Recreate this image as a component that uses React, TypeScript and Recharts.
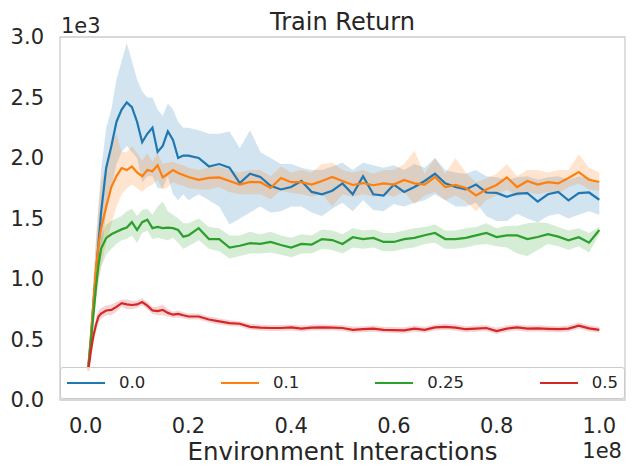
import { ComposedChart, Area, Line, XAxis, YAxis, ReferenceArea } from "recharts";

// x positions in millions of environment interactions
const X_M = [
  0.5, 1, 1.5, 2, 2.5, 3, 4, 5, 6, 7, 8, 9, 10, 11, 12, 13, 14, 15, 16, 17, 18, 19, 20,
  22, 24, 26, 28, 30, 32, 34, 36, 38, 40, 42, 44, 46, 48, 50, 52, 54, 56, 58, 60,
  62, 64, 66, 68, 70, 72, 74, 76, 78, 80, 82, 84, 86, 88, 90, 92, 94, 96, 98, 100,
];

// 0.0
const blue = [
  270, 500, 800, 1050, 1300, 1550, 1920, 2100, 2300, 2400, 2460, 2420, 2300, 2130, 2200, 2250, 2050, 2100, 2220, 2150, 2000, 2020, 2020,
  2000, 1930, 1950, 1920, 1793, 1870, 1843, 1770, 1740, 1760, 1810, 1720, 1700, 1730, 1790, 1700, 1850, 1700, 1690, 1780,
  1720, 1760, 1810, 1870, 1790, 1760, 1740, 1780, 1715, 1712, 1680, 1705, 1710, 1640, 1700, 1720, 1650, 1710, 1715, 1655,
];
const blueHi = [
  300, 600, 950, 1300, 1600, 1900, 2250, 2400, 2650, 2800, 2950, 2800, 2650, 2550, 2500, 2500, 2400, 2350, 2450, 2400, 2300, 2250, 2250,
  2230, 2200, 2200, 2220, 2080, 2230, 2050, 2000, 1950, 1950, 1920, 1900, 1900, 1930, 1960, 1900, 1960, 1940, 1920, 1940,
  1900, 1950, 1920, 2000, 1900, 1880, 1870, 1900, 1850, 1840, 1820, 1840, 1850, 1820, 1840, 1850, 1820, 1850, 1840, 1790,
];
const blueLo = [
  240, 420, 650, 850, 1050, 1200, 1550, 1750, 1950, 2050, 2100, 2050, 2000, 1800, 1850, 1850, 1750, 1750, 1850, 1700, 1650, 1700, 1650,
  1700, 1650, 1600, 1450, 1500, 1550, 1600, 1550, 1560, 1600, 1600, 1550, 1520, 1580, 1630, 1560, 1650, 1570, 1560, 1620,
  1600, 1630, 1650, 1700, 1650, 1600, 1600, 1630, 1520, 1480, 1480, 1540, 1500, 1470, 1520, 1540, 1500, 1530, 1560, 1530,
];

// 0.1
const orange = [
  260, 520, 800, 1080, 1280, 1420, 1600, 1760, 1850, 1917, 1900, 1930, 1880, 1850, 1900, 1890, 1940, 1840, 1870, 1900, 1876, 1860, 1843,
  1820, 1835, 1840, 1810, 1780, 1802, 1800, 1752, 1835, 1800, 1800, 1780, 1810, 1843, 1810, 1777, 1793, 1775, 1790, 1780,
  1818, 1790, 1780, 1843, 1760, 1777, 1752, 1690, 1740, 1777, 1840, 1760, 1810, 1780, 1800, 1790, 1835, 1884, 1820, 1802,
];
const orangeHi = [
  280, 650, 1000, 1350, 1600, 1800, 1950, 2100, 2200, 2050, 2050, 2100, 2040, 1980, 2040, 1970, 2040, 1950, 1960, 1970, 1950, 1940, 1920,
  1900, 1920, 1930, 1900, 1880, 1900, 1900, 1850, 1930, 1880, 1900, 1880, 1950, 1960, 1900, 1880, 1900, 1870, 1900, 1900,
  1950, 2060, 1870, 2000, 1870, 2000, 1880, 1800, 1830, 1870, 1950, 1850, 1900, 1900, 1880, 1900, 1900, 2030, 1920, 1880,
];
const orangeLo = [
  240, 380, 600, 800, 950, 1100, 1300, 1450, 1600, 1700, 1750, 1780, 1750, 1720, 1760, 1780, 1820, 1740, 1760, 1800, 1780, 1770, 1750,
  1740, 1740, 1760, 1720, 1700, 1700, 1700, 1660, 1730, 1710, 1700, 1680, 1700, 1600, 1700, 1680, 1700, 1680, 1700, 1680,
  1720, 1620, 1690, 1720, 1650, 1690, 1640, 1560, 1650, 1690, 1740, 1680, 1720, 1700, 1720, 1700, 1760, 1790, 1740, 1730,
];

// 0.25
const green = [
  250, 480, 700, 930, 1120, 1250, 1340, 1370, 1390, 1410, 1425, 1470, 1405, 1470, 1490, 1420, 1430, 1420, 1425, 1420, 1405, 1350, 1360,
  1420, 1330, 1330, 1260, 1275, 1297, 1290, 1306, 1281, 1260, 1290, 1285, 1330, 1322, 1290, 1345, 1330, 1339, 1306, 1306,
  1330, 1340, 1362, 1380, 1330, 1330, 1340, 1360, 1380, 1347, 1360, 1360, 1330, 1347, 1370, 1350, 1320, 1345, 1300, 1405,
];
const greenHi = [
  270, 540, 780, 1020, 1220, 1350, 1450, 1480, 1500, 1520, 1560, 1580, 1520, 1570, 1580, 1530, 1600, 1640, 1560, 1530, 1500, 1460, 1460,
  1500, 1430, 1420, 1360, 1360, 1390, 1370, 1390, 1360, 1340, 1370, 1360, 1410, 1400, 1370, 1420, 1400, 1410, 1380, 1380,
  1400, 1420, 1430, 1450, 1400, 1400, 1420, 1430, 1460, 1420, 1440, 1440, 1460, 1470, 1460, 1430, 1400, 1420, 1380, 1430,
];
const greenLo = [
  230, 420, 620, 840, 1000, 1100, 1200, 1250, 1290, 1320, 1330, 1360, 1300, 1380, 1400, 1330, 1340, 1330, 1320, 1340, 1300, 1250, 1270,
  1320, 1250, 1230, 1170, 1190, 1210, 1210, 1220, 1200, 1180, 1210, 1210, 1250, 1240, 1210, 1260, 1250, 1260, 1230, 1230,
  1250, 1260, 1290, 1300, 1250, 1250, 1260, 1280, 1290, 1270, 1260, 1210, 1190, 1240, 1290, 1270, 1240, 1270, 1220, 1370,
];

// 0.5
const red = [
  240, 400, 530, 620, 690, 715, 740, 745, 770, 800, 790, 785, 790, 810, 780, 740, 735, 745, 720, 705, 711, 700, 690,
  690, 665, 650, 636, 630, 605, 598, 595, 595, 600, 590, 598, 600, 598, 595, 580, 585, 590, 580, 578,
  575, 590, 580, 600, 605, 598, 585, 590, 595, 570, 590, 600, 590, 592, 588, 585, 590, 615, 592, 580,
];
const redHi = [
  260, 440, 580, 680, 740, 760, 780, 790, 810, 830, 830, 820, 820, 840, 810, 770, 770, 790, 750, 730, 740, 725, 715,
  715, 690, 675, 660, 650, 630, 622, 620, 620, 625, 615, 622, 625, 622, 620, 608, 610, 615, 605, 603,
  600, 615, 605, 625, 630, 623, 610, 615, 620, 598, 615, 625, 615, 617, 613, 610, 615, 640, 617, 605,
];
const redLo = [
  220, 360, 480, 560, 640, 670, 700, 700, 730, 770, 750, 750, 760, 780, 750, 710, 700, 700, 690, 680, 682, 675, 665,
  665, 640, 625, 612, 608, 580, 574, 570, 570, 575, 565, 574, 575, 574, 570, 555, 560, 565, 555, 553,
  550, 565, 555, 575, 580, 573, 560, 565, 570, 545, 565, 575, 565, 567, 563, 560, 565, 590, 567, 555,
];

const X_TICKS = [0, 2e7, 4e7, 6e7, 8e7, 1e8];
const Y_TICKS = [0, 500, 1000, 1500, 2000, 2500, 3000];

const series = [
  { name: "0.0", color: "#1f77b4", mean: blue, lo: blueLo, hi: blueHi },
  { name: "0.1", color: "#ff7f0e", mean: orange, lo: orangeLo, hi: orangeHi },
  { name: "0.25", color: "#2ca02c", mean: green, lo: greenLo, hi: greenHi },
  { name: "0.5", color: "#d62728", mean: red, lo: redLo, hi: redHi },
];

const data = X_M.map((m, i) => {
  const row: Record<string, number | number[]> = { x: m * 1e6 };
  series.forEach((s, k) => {
    row[`m${k}`] = s.mean[i];
    row[`r${k}`] = [s.lo[i], s.hi[i]];
  });
  return row;
});

const FONT = "DejaVu Sans";
const INK = "#262626";

export default function App() {
  const marks: JSX.Element[] = [];
  series.forEach((s, k) => {
    marks.push(
      <Area
        key={`band-${k}`}
        type="linear"
        dataKey={`r${k}`}
        stroke="none"
        fill={s.color}
        fillOpacity={0.2}
        dot={false}
        activeDot={false}
        isAnimationActive={false}
      />
    );
    marks.push(
      <Line
        key={`line-${k}`}
        type="linear"
        dataKey={`m${k}`}
        stroke={s.color}
        strokeWidth={2.2}
        dot={false}
        activeDot={false}
        isAnimationActive={false}
      />
    );
  });

  return (
    <div style={{ position: "absolute", left: 0, top: 0, width: 635, height: 475, background: "#fff", fontFamily: FONT }}>
      <ComposedChart width={635} height={475} data={data} margin={{ top: 37, right: 10, bottom: 0, left: 0 }}>
        <XAxis
          type="number"
          dataKey="x"
          domain={[-5e6, 1.05e8]}
          ticks={X_TICKS}
          tickFormatter={(v: number) => (v / 1e8).toFixed(1)}
          axisLine={false}
          tickLine={false}
          tickSize={0}
          tickMargin={18}
          height={75}
          interval={0}
          tick={{ fontSize: 21, fill: INK, fontFamily: FONT }}
        />
        <YAxis
          type="number"
          domain={[0, 3000]}
          ticks={Y_TICKS}
          tickFormatter={(v: number) => (v / 1000).toFixed(1)}
          axisLine={false}
          tickLine={false}
          tickSize={0}
          tickMargin={16}
          width={60}
          interval={0}
          tick={{ fontSize: 21, fill: INK, fontFamily: FONT }}
        />
        {marks}
        <ReferenceArea
          x1={-5e6}
          x2={1.05e8}
          y1={0}
          y2={3000}
          fill="none"
          stroke="#cccccc"
          strokeWidth={1.3}
          ifOverflow="visible"
        />
      </ComposedChart>

      <svg width={635} height={475} style={{ position: "absolute", left: 0, top: 0, pointerEvents: "none" }}>
        <text x={342.5} y={30} textAnchor="middle" fontSize={24} fill={INK} fontFamily={FONT}>
          Train Return
        </text>
        <text x={61} y={33} fontSize={21} fill={INK} fontFamily={FONT}>
          1e3
        </text>
        <text x={622} y={458} textAnchor="end" fontSize={21} fill={INK} fontFamily={FONT}>
          1e8
        </text>
        <text x={342.5} y={460} textAnchor="middle" fontSize={24.5} fill={INK} fontFamily={FONT}>
          Environment Interactions
        </text>
      </svg>

      <div
        style={{
          position: "absolute",
          left: 60,
          top: 367,
          width: 565,
          height: 32,
          boxSizing: "border-box",
          border: "1px solid #cccccc",
          borderRadius: 3,
          background: "rgba(255,255,255,0.8)",
          display: "flex",
          alignItems: "center",
          justifyContent: "space-between",
          padding: "0 6px",
        }}
      >
        {series.map((s) => (
          <div key={s.name} style={{ display: "flex", alignItems: "center" }}>
            <div style={{ width: 38, height: 2.2, background: s.color, marginRight: 14 }} />
            <span style={{ fontSize: 16.5, color: INK, fontFamily: FONT, lineHeight: "20px" }}>{s.name}</span>
          </div>
        ))}
      </div>
    </div>
  );
}
